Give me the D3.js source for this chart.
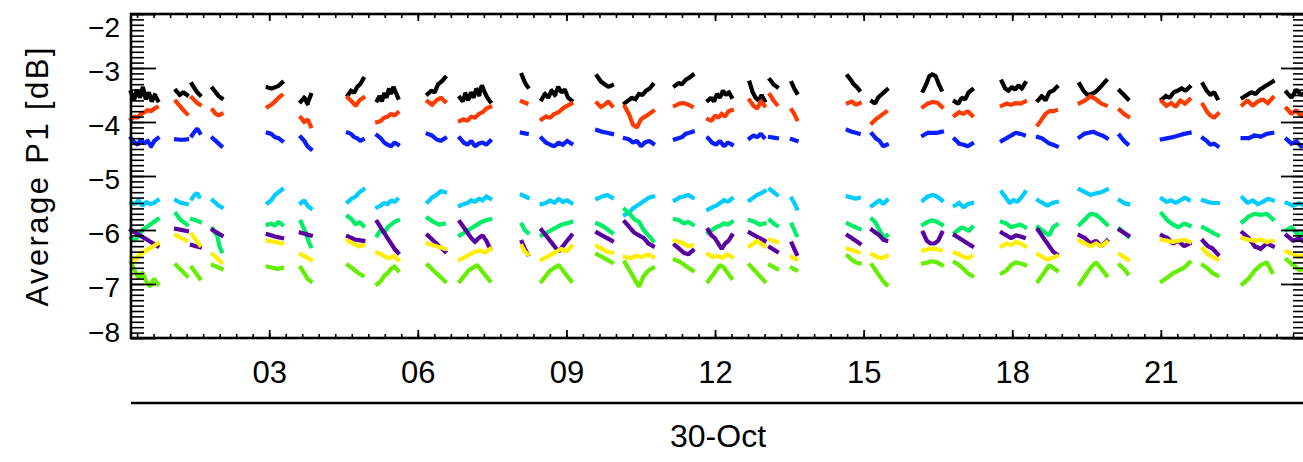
<!DOCTYPE html>
<html><head><meta charset="utf-8">
<script src="https://cdn.jsdelivr.net/npm/d3@7"></script>
<style>
html,body{margin:0;padding:0;background:#fff;}
svg{display:block;}
text{font-family:"Liberation Sans",Arial,sans-serif;fill:#000;}
</style></head>
<body>
<svg id="chart" width="1303" height="462"></svg>
<script>
// ---- data (hours of 30-Oct, values in dB) ----
const clusters = [
 [0.21,0.75],[1.12,1.34],[1.44,1.60],[1.86,2.04],[2.97,3.26],[3.64,3.84],[4.59,4.90],[5.18,5.60],
 [6.20,6.55],[6.85,7.46],[8.10,8.22],[8.50,9.10],[9.62,9.92],[10.18,10.75],[11.19,11.55],[11.86,12.34],
 [12.70,13.00],[13.11,13.25],[13.55,13.65],[14.68,14.92],[15.17,15.47],[16.20,16.58],[16.84,17.19],[17.79,18.26],
 [18.52,18.90],[19.36,19.91],[20.17,20.34],[21.02,21.58],[21.85,22.15],[22.65,23.26],[23.54,23.93]
];
const black = [
 [-3.45,-3.6,-3.4,-3.55,-3.35,-3.58,-3.45,-3.62,-3.5,-3.6],[-3.42,-3.5,-3.45,-3.5],[-3.3,-3.38,-3.45,-3.5],[-3.38,-3.45,-3.52,-3.56],
 [-3.36,-3.38,-3.36,-3.33,-3.27],[-3.62,-3.55,-3.66,-3.5],[-3.5,-3.42,-3.46,-3.35,-3.3,-3.2],[-3.6,-3.52,-3.62,-3.48,-3.55,-3.4,-3.48,-3.35,-3.45,-3.55],
 [-3.48,-3.42,-3.45,-3.3,-3.25,-3.18],[-3.55,-3.62,-3.48,-3.6,-3.45,-3.55,-3.38,-3.5,-3.32,-3.45,-3.55,-3.62],[-3.13,-3.22,-3.3,-3.35],[-3.58,-3.48,-3.55,-3.42,-3.5,-3.35,-3.45,-3.4,-3.55,-3.6],
 [-3.15,-3.25,-3.3,-3.35,-3.32],[-3.65,-3.6,-3.55,-3.58,-3.48,-3.5,-3.42,-3.38,-3.3],[-3.33,-3.28,-3.3,-3.22,-3.18,-3.13],[-3.6,-3.55,-3.62,-3.48,-3.55,-3.42,-3.5,-3.45,-3.55],
 [-3.27,-3.45,-3.55,-3.6,-3.5,-3.6],[-3.22,-3.3,-3.35],[-3.28,-3.38,-3.46],[-3.15,-3.22,-3.3,-3.35,-3.42],
 [-3.62,-3.66,-3.55,-3.5,-3.45,-3.4],[-3.42,-3.3,-3.15,-3.12,-3.15,-3.3,-3.42],[-3.62,-3.66,-3.55,-3.58,-3.45,-3.4],[-3.25,-3.38,-3.42,-3.35,-3.4,-3.32,-3.38,-3.28],
 [-3.6,-3.52,-3.6,-3.45,-3.42,-3.35],[-3.3,-3.42,-3.5,-3.48,-3.45,-3.38,-3.3,-3.22],[-3.42,-3.5,-3.58],[-3.58,-3.52,-3.55,-3.45,-3.42,-3.38,-3.42,-3.35],
 [-3.3,-3.42,-3.5,-3.45,-3.58],[-3.55,-3.5,-3.45,-3.48,-3.4,-3.35,-3.3,-3.25],[-3.45,-3.55,-3.4,-3.5,-3.45]
];
const orange = [
 [-3.95,-3.9,-3.92,-3.85,-3.82,-3.78,-3.8,-3.75,-3.72],[-3.62,-3.7,-3.78,-3.85],[-3.55,-3.6,-3.65,-3.68],[-3.78,-3.85,-3.88,-3.85],
 [-3.72,-3.68,-3.62,-3.55,-3.5],[-3.92,-4.0,-3.95,-4.08],[-3.55,-3.62,-3.7,-3.6,-3.55],[-4.0,-3.98,-3.92,-3.9,-3.85,-3.88,-3.82],
 [-3.62,-3.68,-3.6,-3.55,-3.62],[-3.98,-3.95,-3.98,-3.9,-3.92,-3.85,-3.82,-3.75,-3.72],[-3.62,-3.66],[-3.95,-3.9,-3.92,-3.85,-3.82,-3.75,-3.7,-3.66],
 [-3.65,-3.72,-3.68,-3.62,-3.7],[-3.72,-3.85,-4.05,-4.1,-3.95,-3.9,-3.85,-3.8],[-3.7,-3.66,-3.65,-3.68,-3.72],[-3.95,-3.98,-3.88,-3.92,-3.85,-3.9,-3.8,-3.78],
 [-3.6,-3.7,-3.75,-3.62,-3.7],[-3.5,-3.6,-3.68],[-3.78,-3.85,-3.95],[-3.65,-3.62,-3.68,-3.65],
 [-4.02,-3.95,-3.9,-3.85,-3.8],[-3.72,-3.66,-3.63,-3.64,-3.72],[-3.88,-3.82,-3.85,-3.8,-3.88],[-3.7,-3.66,-3.68,-3.65,-3.66,-3.62],
 [-4.05,-3.95,-3.85,-3.8,-3.8,-3.78],[-3.65,-3.6,-3.52,-3.58,-3.66,-3.7],[-3.78,-3.85,-3.9],[-3.62,-3.7,-3.65,-3.72,-3.6,-3.66,-3.58],
 [-3.68,-3.8,-3.88,-3.92,-3.85],[-3.68,-3.6,-3.7,-3.62,-3.58,-3.65,-3.55],[-3.75,-3.85,-3.78,-3.9,-3.8]
];
const blue = [
 [-4.3,-4.38,-4.42,-4.32,-4.4,-4.35,-4.45,-4.35,-4.3],[-4.32,-4.33,-4.32],[-4.25,-4.18,-4.12,-4.2],[-4.3,-4.35,-4.4,-4.45],
 [-4.2,-4.22,-4.28,-4.3,-4.35],[-4.28,-4.35,-4.45,-4.5],[-4.2,-4.22,-4.28,-4.3,-4.35,-4.32],[-4.25,-4.3,-4.38,-4.42,-4.45,-4.38,-4.42],
 [-4.22,-4.25,-4.32,-4.35,-4.3],[-4.3,-4.38,-4.42,-4.35,-4.45,-4.4,-4.38,-4.42,-4.35],[-4.2,-4.22],[-4.3,-4.38,-4.42,-4.45,-4.38,-4.42,-4.35,-4.4],
 [-4.15,-4.18,-4.2,-4.22],[-4.3,-4.32,-4.38,-4.35,-4.45,-4.38,-4.35,-4.4],[-4.32,-4.3,-4.28,-4.22,-4.2,-4.18],[-4.3,-4.38,-4.42,-4.35,-4.45,-4.38,-4.42],
 [-4.3,-4.25,-4.28,-4.22,-4.3],[-4.28,-4.3],[-4.32,-4.35],[-4.15,-4.18,-4.2,-4.22],
 [-4.22,-4.3,-4.35,-4.45,-4.42],[-4.25,-4.2,-4.2,-4.2,-4.18],[-4.32,-4.4,-4.42,-4.45,-4.4],[-4.35,-4.3,-4.25,-4.2,-4.22,-4.25],
 [-4.28,-4.3,-4.35,-4.4,-4.42,-4.45],[-4.28,-4.22,-4.2,-4.18,-4.22,-4.25,-4.3],[-4.25,-4.35,-4.42],[-4.32,-4.3,-4.28,-4.25,-4.22,-4.2],
 [-4.3,-4.35,-4.42,-4.4,-4.45],[-4.3,-4.3,-4.25,-4.27,-4.22,-4.2],[-4.32,-4.4,-4.36,-4.45,-4.4]
];
const cyan = [
 [-5.5,-5.52,-5.45,-5.55,-5.48,-5.52,-5.5,-5.45],[-5.45,-5.5,-5.52],[-5.42,-5.35,-5.32,-5.4],[-5.45,-5.5,-5.55,-5.58],
 [-5.5,-5.45,-5.35,-5.3,-5.25],[-5.5,-5.45,-5.55,-5.6],[-5.48,-5.42,-5.38,-5.3,-5.25],[-5.58,-5.55,-5.5,-5.52,-5.45,-5.48,-5.42],
 [-5.48,-5.4,-5.35,-5.28,-5.3],[-5.55,-5.52,-5.5,-5.45,-5.48,-5.42,-5.45,-5.38,-5.42],[-5.35,-5.4],[-5.52,-5.5,-5.45,-5.5,-5.42,-5.48,-5.45,-5.5],
 [-5.42,-5.38,-5.35,-5.4],[-5.72,-5.68,-5.6,-5.55,-5.5,-5.45,-5.4,-5.38],[-5.45,-5.4,-5.38,-5.35,-5.4],[-5.62,-5.58,-5.55,-5.5,-5.45,-5.48,-5.42],
 [-5.45,-5.4,-5.35,-5.32,-5.28],[-5.25,-5.3,-5.35],[-5.42,-5.5,-5.6],[-5.38,-5.4,-5.42,-5.4],
 [-5.55,-5.5,-5.45,-5.52,-5.45],[-5.45,-5.38,-5.35,-5.38,-5.45],[-5.55,-5.5,-5.58,-5.52,-5.5],[-5.3,-5.4,-5.5,-5.45,-5.48,-5.4,-5.3],
 [-5.45,-5.5,-5.55,-5.5,-5.48],[-5.25,-5.3,-5.35,-5.32,-5.3,-5.25],[-5.45,-5.5,-5.52],[-5.42,-5.48,-5.45,-5.5,-5.45,-5.4,-5.45],
 [-5.45,-5.48,-5.5,-5.5],[-5.4,-5.5,-5.45,-5.52,-5.48,-5.42,-5.45],[-5.5,-5.55,-5.5,-5.58]
];
const green = [
 [-6.15,-6.2,-6.1,-6.0,-5.95,-5.9,-5.85,-5.8],[-5.7,-5.8,-5.85,-5.9],[-5.8,-5.82,-5.85],[-5.98,-6.05,-6.1,-6.3,-6.4],
 [-5.9,-5.88,-5.92,-5.85,-5.9],[-5.85,-5.95,-6.05,-6.2,-6.3],[-5.75,-5.8,-5.9,-5.85,-5.92],[-6.1,-6.0,-6.05,-5.95,-5.9,-5.85,-5.82],
 [-5.78,-5.85,-5.9,-5.88],[-6.1,-6.05,-6.0,-5.95,-5.9,-5.85,-5.82,-5.8],[-5.9,-6.0,-6.05],[-6.1,-6.05,-6.0,-5.95,-5.9,-5.88,-5.85],
 [-5.88,-5.92,-5.98,-6.05],[-5.62,-5.7,-5.8,-5.85,-6.0,-6.1,-6.2],[-5.8,-5.82,-5.88,-5.85,-5.9],[-6.05,-6.0,-5.95,-5.92,-5.88,-5.9,-5.85],
 [-5.82,-5.85,-5.9,-5.88],[-5.82,-5.88,-5.92],[-5.9,-6.0,-6.1],[-5.88,-5.92,-5.95,-5.98],
 [-5.8,-5.85,-5.95,-6.05,-6.15,-6.1],[-5.9,-5.85,-5.82,-5.85,-5.9],[-6.05,-6.0,-5.95,-5.98,-6.02,-5.95],[-5.85,-5.88,-5.95,-5.92,-5.9,-5.95],
 [-5.95,-6.0,-6.05,-6.1,-5.95,-5.9],[-5.9,-5.8,-5.7,-5.72,-5.8,-5.9],[-5.98,-6.05,-6.12],[-5.7,-5.82,-5.9,-5.95,-5.88,-5.92],
 [-5.95,-6.0,-6.05,-6.1],[-5.85,-5.75,-5.7,-5.72,-5.7,-5.8],[-6.0,-5.95,-6.05,-6.1,-6.0]
];
const purple = [
 [-6.0,-6.05,-6.1,-6.15,-6.2,-6.25,-6.3],[-5.98,-6.02],[-6.28,-6.32],[-6.0,-6.1],
 [-6.08,-6.12,-6.15],[-6.05,-6.1],[-6.12,-6.18,-6.2],[-5.85,-5.95,-6.05,-6.15,-6.25,-6.35,-6.42],
 [-6.1,-6.2,-6.3,-6.4],[-5.85,-5.95,-6.05,-6.15,-6.22,-6.15,-6.1,-6.2,-6.35],[-6.22,-6.35,-6.45],[-6.0,-6.1,-6.2,-6.3,-6.4,-6.3,-6.2,-6.1],
 [-6.05,-6.1,-6.15,-6.2],[-5.85,-5.95,-6.05,-6.1,-6.15,-6.25,-6.3],[-6.28,-6.35,-6.42,-6.45,-6.38],[-6.0,-6.1,-6.15,-6.25,-6.35,-6.25,-6.2,-6.1],
 [-6.05,-6.1,-6.15,-6.2],[-6.32,-6.4],[-6.25,-6.35,-6.45],[-6.1,-6.15,-6.2,-6.25],
 [-6.0,-6.05,-6.1,-6.18,-6.2],[-6.05,-6.2,-6.25,-6.25,-6.2,-6.05],[-6.1,-6.15,-6.2,-6.25,-6.3],[-6.05,-6.1,-6.15,-6.1,-6.12,-6.15],
 [-6.0,-6.1,-6.2,-6.3,-6.4,-6.45],[-6.1,-6.15,-6.25,-6.2,-6.3,-6.2],[-6.0,-6.1],[-6.1,-6.15,-6.25,-6.2,-6.3,-6.25],
 [-6.2,-6.3,-6.35,-6.45],[-6.05,-6.15,-6.3,-6.35,-6.25,-6.3],[-6.1,-6.2,-6.15,-6.25]
];
const yellow = [
 [-6.5,-6.55,-6.45,-6.4,-6.35,-6.3,-6.25],[-6.1,-6.15,-6.2],[-6.08,-6.15,-6.22,-6.28],[-6.45,-6.5,-6.55,-6.6],
 [-6.2,-6.22,-6.25],[-6.45,-6.5,-6.55],[-6.2,-6.25,-6.3,-6.28],[-6.42,-6.45,-6.5,-6.52,-6.48,-6.55],
 [-6.25,-6.3,-6.35],[-6.55,-6.5,-6.45,-6.4,-6.38,-6.42,-6.35],[-6.3,-6.4,-6.45],[-6.55,-6.5,-6.45,-6.4,-6.35,-6.4,-6.3],
 [-6.3,-6.35,-6.4,-6.42],[-6.5,-6.52,-6.48,-6.5,-6.45,-6.5],[-6.2,-6.22,-6.25,-6.3,-6.28],[-6.45,-6.5,-6.48,-6.52,-6.45,-6.5],
 [-6.3,-6.25,-6.2,-6.25,-6.3],[-6.18,-6.22],[-6.5,-6.55],[-6.35,-6.38,-6.42],
 [-6.45,-6.5,-6.52,-6.48],[-6.38,-6.35,-6.35,-6.38],[-6.42,-6.45,-6.5,-6.52,-6.48],[-6.3,-6.25,-6.28,-6.22,-6.25,-6.3],
 [-6.45,-6.5,-6.55,-6.52,-6.48],[-6.2,-6.25,-6.3,-6.25,-6.3,-6.22],[-6.45,-6.5,-6.55],[-6.18,-6.2,-6.22,-6.2,-6.18,-6.22],
 [-6.35,-6.45,-6.5,-6.55],[-6.15,-6.18,-6.2,-6.18,-6.22,-6.2],[-6.4,-6.45,-6.5,-6.45]
];
const lime = [
 [-6.6,-6.75,-6.9,-6.8,-6.95,-7.05,-6.9,-7.0],[-6.65,-6.75,-6.85],[-6.7,-6.8,-6.9],[-6.65,-6.72],
 [-6.68,-6.7,-6.72,-6.7],[-6.7,-6.8,-6.9,-6.95],[-6.65,-6.72,-6.8,-6.85],[-7.0,-6.95,-6.85,-6.8,-6.72,-6.68,-6.75],
 [-6.65,-6.75,-6.85,-6.95],[-6.95,-6.85,-6.75,-6.7,-6.65,-6.75,-6.85,-6.95],[],[-6.95,-6.85,-6.75,-6.7,-6.65,-6.75,-6.85,-6.95],
 [-6.45,-6.5,-6.55,-6.6],[-6.6,-6.75,-6.9,-7.05,-6.85,-6.75,-6.7],[-6.55,-6.6,-6.68,-6.75],[-6.95,-6.85,-6.75,-6.65,-6.7,-6.8,-6.9],
 [-6.65,-6.75,-6.85,-6.95],[-6.65,-6.72],[-6.7,-6.75],[-6.48,-6.55,-6.6,-6.62],
 [-6.65,-6.75,-6.85,-6.95,-7.02],[-6.62,-6.6,-6.58,-6.6,-6.65],[-6.6,-6.65,-6.72,-6.8,-6.85],[-6.8,-6.75,-6.65,-6.6,-6.62,-6.65],
 [-6.95,-6.85,-6.75,-6.65,-6.7,-6.75],[-7.0,-6.85,-6.7,-6.6,-6.72,-6.85],[-6.65,-6.72,-6.82],[-6.95,-6.88,-6.8,-6.75,-6.7,-6.6],
 [-6.65,-6.72,-6.8,-6.85],[-7.0,-6.9,-6.75,-6.65,-6.6,-6.8],[-6.55,-6.65,-6.75,-6.7]
];
const yTickValues = [-8,-7,-6,-5,-4,-3,-2];
const xTickValues = [3,6,9,12,15,18,21];
const dateLabel = "30-Oct";
const yTitle = "Average P1 [dB]";

// ---- drawing ----
const series = [
 {vals:black,  color:"#000000"},
 {vals:orange, color:"#ff3c00"},
 {vals:blue,   color:"#0a1eff"},
 {vals:cyan,   color:"#00ccff"},
 {vals:green,  color:"#00ee66"},
 {vals:purple, color:"#5a00a0"},
 {vals:yellow, color:"#ffee00"},
 {vals:lime,   color:"#66ee00"}
];
const L=131, R=1306, T=14, B=338;
const svg = d3.select("#chart");
const x = d3.scaleLinear().domain([0.21, 23.93]).range([L, R]);
const y = d3.scaleLinear().domain([-8, -2]).range([B, T]);

const line = d3.line().x(d=>x(d[0])).y(d=>y(d[1]));
const gData = svg.append("g");
series.forEach(s=>{
  s.vals.forEach((vals,ci)=>{
    if(!vals.length) return;
    const [t0,t1] = clusters[ci];
    const n = vals.length;
    const pts = vals.map((v,i)=>[n>1 ? t0+(t1-t0)*i/(n-1) : (t0+t1)/2, v]);
    gData.append("path").attr("d", line(pts))
      .attr("fill","none").attr("stroke", s.color)
      .attr("stroke-width",4.2).attr("stroke-linejoin","bevel").attr("stroke-linecap","square")
      .attr("stroke-dasharray","5 1.5");
  });
});

// axes
function styleAxis(g, w){ g.select(".domain").remove(); g.selectAll(".tick line").attr("stroke","#000").attr("stroke-width",w); }
const yMinor = d3.range(-80,-19).map(d=>d/10);
const xMinor = d3.range(1, 72).map(d=>d/3).filter(d=>d>=0.21 && d<=23.93);

svg.append("g").attr("transform",`translate(${L},0)`).call(d3.axisLeft(y).tickValues(yMinor).tickSize(-13).tickFormat("")).call(styleAxis,1.6);
svg.append("g").attr("transform",`translate(${L},0)`).call(d3.axisLeft(y).tickValues(yTickValues).tickSize(-25).tickFormat("")).call(styleAxis,1.8);
svg.append("g").attr("transform",`translate(${R},0)`).call(d3.axisRight(y).tickValues(yMinor).tickSize(-13).tickFormat("")).call(styleAxis,1.6);
svg.append("g").attr("transform",`translate(${R},0)`).call(d3.axisRight(y).tickValues(yTickValues).tickSize(-25).tickFormat("")).call(styleAxis,1.8);
svg.append("g").attr("transform",`translate(0,${B})`).call(d3.axisBottom(x).tickValues(xMinor).tickSize(-4).tickFormat("")).call(styleAxis,1.6);
svg.append("g").attr("transform",`translate(0,${B})`).call(d3.axisBottom(x).tickValues(xTickValues).tickSize(-8).tickFormat("")).call(styleAxis,1.8);
svg.append("g").attr("transform",`translate(0,${T})`).call(d3.axisTop(x).tickValues(xMinor).tickSize(-4).tickFormat("")).call(styleAxis,1.6);
svg.append("g").attr("transform",`translate(0,${T})`).call(d3.axisTop(x).tickValues(xTickValues).tickSize(-7).tickFormat("")).call(styleAxis,1.8);

svg.append("rect").attr("x",L).attr("y",T).attr("width",R-L).attr("height",B-T)
  .attr("fill","none").attr("stroke","#000").attr("stroke-width",2.6);

// y tick labels
const yl = svg.append("g").attr("transform",`translate(${L},0)`)
  .call(d3.axisLeft(y).tickValues(yTickValues).tickSize(0).tickPadding(11).tickFormat(d3.format("d")));
yl.select(".domain").remove();
yl.selectAll("text").attr("font-family",null).attr("font-size",null)
  .style("font-size","28px")
  .attr("dy", d=> d===-2 ? "22px" : d===-8 ? "3px" : "12px");

// x tick labels
const xl = svg.append("g").attr("transform",`translate(0,${B})`)
  .call(d3.axisBottom(x).tickValues(xTickValues).tickSize(0).tickFormat(d3.format("02d")));
xl.select(".domain").remove();
xl.selectAll("text").attr("font-family",null).attr("font-size",null)
  .style("font-size","31px").attr("y",45).attr("dy",0);

// second axis line and date label
svg.append("line").attr("x1",L).attr("x2",R).attr("y1",403).attr("y2",403)
  .attr("stroke","#000").attr("stroke-width",2.6);
svg.append("text").attr("x",718).attr("y",447).attr("text-anchor","middle")
  .style("font-size","32px").text(dateLabel);

// y title
svg.append("text").attr("transform","translate(48,177) rotate(-90)").attr("text-anchor","middle")
  .style("font-size","31px").attr("textLength",259).attr("lengthAdjust","spacing").text(yTitle);
</script>
</body></html>
